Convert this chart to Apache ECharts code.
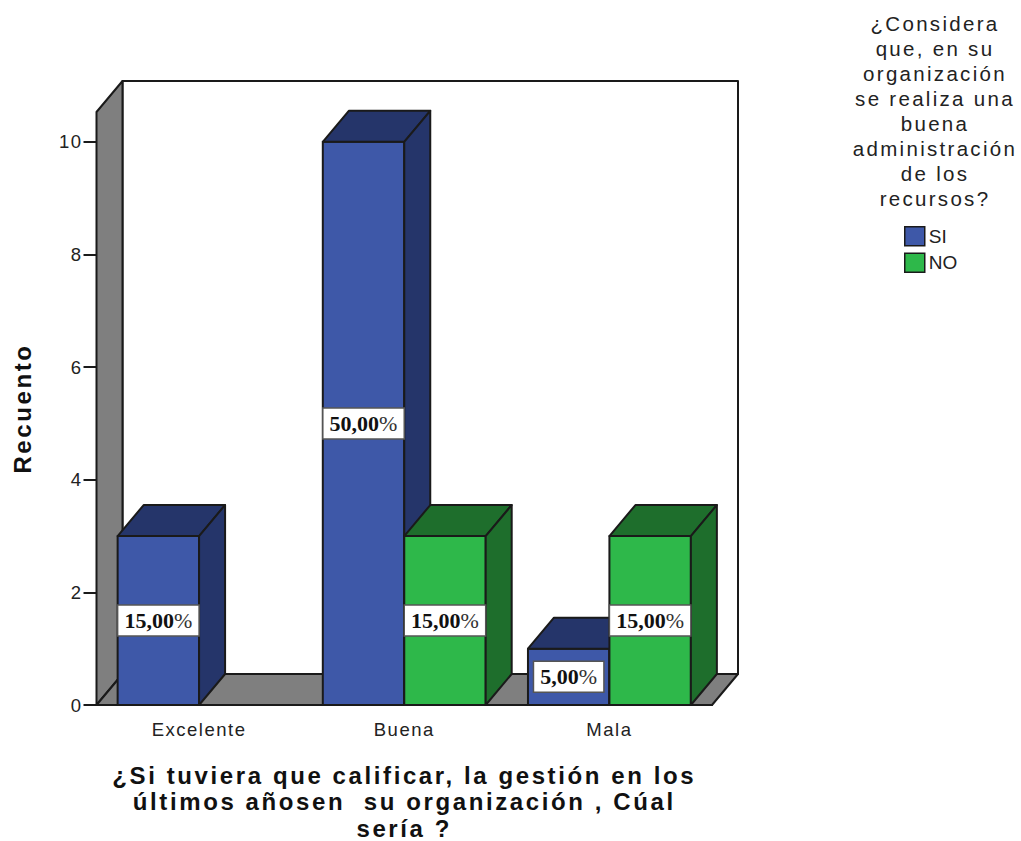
<!DOCTYPE html>
<html>
<head>
<meta charset="utf-8">
<style>
  html, body { margin: 0; padding: 0; background: #fff; }
  #main { width: 1021px; height: 841px; }
  /* el original tiene el texto espaciado */
  #main text[style*="18.5px"] { letter-spacing: 1.5px; }
  #main text[style*="20.5px"] { letter-spacing: 2.3px; }
  #main text[style*="24px"] { letter-spacing: 2.6px; }
</style>
<script src="https://cdn.jsdelivr.net/npm/echarts@6/dist/echarts.min.js"></script>
</head>
<body>
<div id="main"></div>
<script>
  const categories = ['Excelente', 'Buena', 'Mala'];
  const siValues = [3, 10, 1];
  const noValues = [null, 3, 3];
  const siLabels = ['15,00%', '50,00%', '5,00%'];
  const noLabels = [null, '15,00%', '15,00%'];
  const yTicks = [0, 2, 4, 6, 8, 10];

  const depthX = 26;
  const depthY = 31;
  const lineColor = '#1a1a1a';
  const wallColor = '#7f7f7f';

  function poly(points, fill) {
    return {
      type: 'polygon',
      shape: { points: points },
      style: { fill: fill, stroke: lineColor, lineWidth: 2, lineJoin: 'round' }
    };
  }

  function walls(params) {
    const g = params.coordSys;
    const l = g.x, r = g.x + g.width, t = g.y, b = g.y + g.height;
    return {
      type: 'group',
      children: [
        poly([[l + depthX, t - depthY], [r + depthX, t - depthY], [r + depthX, b - depthY], [l + depthX, b - depthY]], '#fff'),
        poly([[l, t], [l + depthX, t - depthY], [l + depthX, b - depthY], [l, b]], wallColor),
        poly([[l, b], [l + depthX, b - depthY], [r + depthX, b - depthY], [r, b]], wallColor)
      ]
    };
  }

  function bar3d(front, dark, side, labels) {
    return function (params, api) {
      const i = api.value(0);
      const top = api.coord([i, api.value(1)]);
      const base = api.coord([i, 0]);
      const w = api.size([1, 0])[0] * 0.397;
      const x0 = side < 0 ? top[0] - w : top[0];
      const x1 = x0 + w;
      const label = labels[i];
      const boxW = label.length > 5 ? w : w - 11;
      const boxH = 31;
      const cy = (top[1] + base[1]) / 2;
      const cx = (x0 + x1) / 2;
      return {
        type: 'group',
        children: [
          poly([[x0, top[1]], [x1, top[1]], [x1, base[1]], [x0, base[1]]], front),
          poly([[x0, top[1]], [x0 + depthX, top[1] - depthY], [x1 + depthX, top[1] - depthY], [x1, top[1]]], dark),
          poly([[x1, top[1]], [x1 + depthX, top[1] - depthY], [x1 + depthX, base[1] - depthY], [x1, base[1]]], dark),
          {
            type: 'rect',
            shape: { x: cx - boxW / 2, y: cy - boxH / 2, width: boxW, height: boxH },
            style: { fill: '#fff', stroke: '#555', lineWidth: 1.5 }
          },
          {
            type: 'text',
            style: {
              x: cx,
              y: cy,
              text: '{b|' + label.replace('%', '') + '}{p|%}',
              align: 'center',
              verticalAlign: 'middle',
              rich: {
                b: { fontFamily: 'Liberation Serif', fontWeight: 'bold', fontSize: 22, fill: '#111' },
                p: { fontFamily: 'Liberation Serif', fontSize: 22, fill: '#333' }
              }
            }
          }
        ]
      };
    };
  }

  function toPoints(values) {
    const out = [];
    values.forEach(function (v, i) {
      if (v !== null) out.push([i, v]);
    });
    return out;
  }

  const chart = echarts.init(document.getElementById('main'), null, { renderer: 'svg' });
  chart.setOption({
    animation: false,
    backgroundColor: '#fff',
    textStyle: { fontFamily: 'Liberation Sans' },
    title: {
      left: 930,
      top: 6,
      textAlign: 'center',
      text: '¿Considera\nque, en su\norganización\nse realiza una\nbuena\nadministración\nde los\nrecursos?',
      textStyle: { fontSize: 20.5, fontWeight: 'normal', color: '#222', lineHeight: 25, fontFamily: 'Liberation Sans', align: 'center' }
    },
    legend: {
      orient: 'vertical',
      left: 904,
      top: 226,
      padding: 0,
      data: ['SI', 'NO'],
      icon: 'rect',
      itemWidth: 20,
      itemHeight: 19,
      itemGap: 6,
      itemStyle: { borderColor: lineColor, borderWidth: 1.5 },
      textStyle: { fontSize: 19, color: '#222', padding: [0, 0, 0, -1] }
    },
    grid: { left: 96.5, right: 309, top: 112, bottom: 136, outerBoundsMode: 'none' },
    xAxis: {
      type: 'category',
      data: categories,
      name: '¿Si tuviera que calificar, la gestión en los\núltimos añosen  su organización , Cúal\nsería ?',
      nameLocation: 'middle',
      nameGap: 57,
      nameTextStyle: { fontSize: 24, fontWeight: 'bold', color: '#111', lineHeight: 26.5, align: 'center', verticalAlign: 'top' },
      axisLine: { lineStyle: { color: lineColor, width: 2 } },
      axisTick: { alignWithLabel: true, length: 13, lineStyle: { color: lineColor, width: 2 } },
      axisLabel: { fontSize: 18.5, color: '#222', margin: 15 }
    },
    yAxis: {
      type: 'value',
      min: 0,
      max: 10.53,
      interval: 2,
      name: 'Recuento',
      nameLocation: 'middle',
      nameGap: 62,
      nameRotate: 90,
      nameTextStyle: { fontSize: 24, fontWeight: 'bold', color: '#111' },
      splitLine: { show: false },
      axisLine: { show: true, lineStyle: { color: lineColor, width: 2 } },
      axisTick: { show: true, customValues: yTicks, length: 13, lineStyle: { color: lineColor, width: 2 } },
      axisLabel: { customValues: yTicks, fontSize: 18.5, color: '#222', margin: 14 }
    },
    series: [
      {
        name: 'fondo',
        type: 'custom',
        z: 1,
        silent: true,
        data: [[0, 0]],
        renderItem: walls
      },
      {
        name: 'SI',
        type: 'custom',
        z: 2,
        itemStyle: { color: '#3e58a8' },
        encode: { x: 0, y: 1 },
        data: toPoints(siValues),
        renderItem: bar3d('#3e58a8', '#25356a', -1, siLabels)
      },
      {
        name: 'NO',
        type: 'custom',
        z: 3,
        itemStyle: { color: '#2eb84a' },
        encode: { x: 0, y: 1 },
        data: toPoints(noValues),
        renderItem: bar3d('#2eb84a', '#1e6e2c', 1, noLabels)
      }
    ]
  });
</script>
</body>
</html>
